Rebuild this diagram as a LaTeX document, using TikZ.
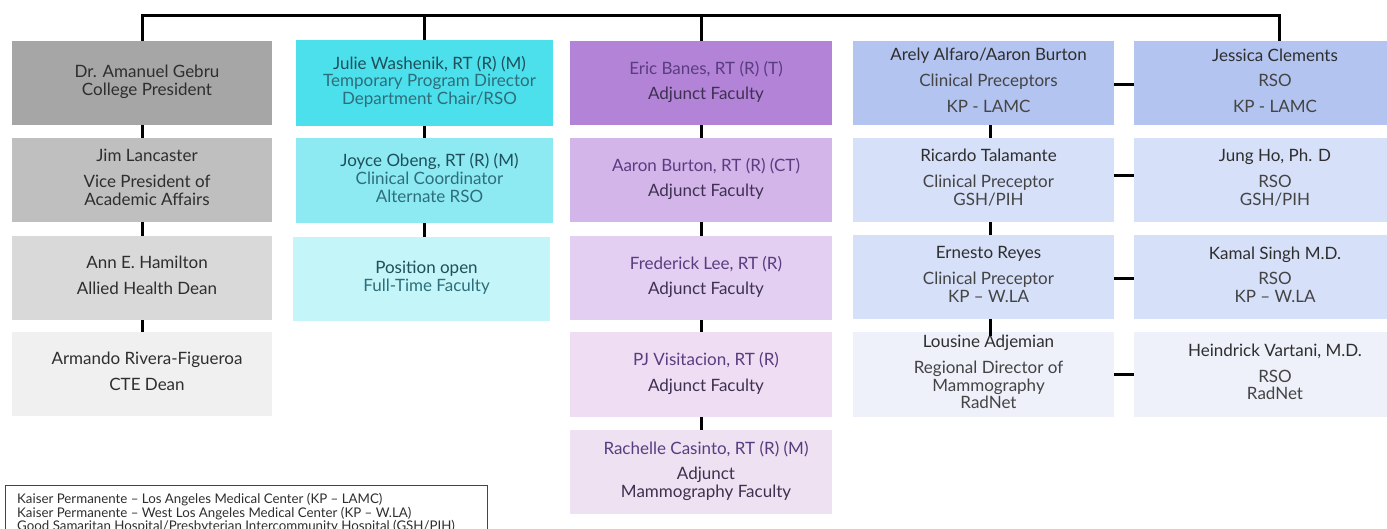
\documentclass[tikz,border=0pt]{standalone}
\usepackage{fontspec}
\setmainfont{Lato}
\definecolor{ga}{HTML}{A6A6A6}
\definecolor{gb}{HTML}{BFBFBF}
\definecolor{gc}{HTML}{D9D9D9}
\definecolor{gd}{HTML}{F0F0F0}
\definecolor{ca}{HTML}{4CE0EC}
\definecolor{cb}{HTML}{8DEAF2}
\definecolor{cc}{HTML}{C4F5F9}
\definecolor{pa}{HTML}{B383D8}
\definecolor{pb}{HTML}{D4B5EA}
\definecolor{pc}{HTML}{E2CFF1}
\definecolor{pd}{HTML}{EFDDF3}
\definecolor{pe}{HTML}{EEE2F2}
\definecolor{ba}{HTML}{B3C4F0}
\definecolor{bb}{HTML}{D6E0F9}
\definecolor{bd}{HTML}{EEF0FA}
\definecolor{tdark}{HTML}{2E2E2E}
\definecolor{tsub}{HTML}{444444}
\definecolor{tteal}{HTML}{1F4F5A}
\definecolor{tteal2}{HTML}{2D6E7A}
\definecolor{tpur}{HTML}{5A3C80}
\definecolor{tpur2}{HTML}{3D3050}
\definecolor{legc}{HTML}{3C3C8C}
\newcommand{\boxtxt}[1]{\hspace*{10pt}\begin{tabular}{@{}c@{}}#1\end{tabular}}
\begin{document}
\begin{tikzpicture}[x=1pt,y=-1pt,
  box/.style={rectangle, inner sep=0pt, minimum height=84pt,
    font=\fontsize{17}{17.5}\selectfont, text=tdark},
  col1/.style={box, minimum width=260pt},
  col2/.style={box, minimum width=257pt, text=tteal},
  col3/.style={box, minimum width=262pt, text=tpur2},
  col4/.style={box, minimum width=261pt, text=tdark},
  col5/.style={box, minimum width=272pt, text=tdark},
  conn/.style={line width=3pt, draw=black},
  link/.style={line width=3pt, draw=black, line join=miter}
]
\useasboundingbox (0,0) rectangle (1387,529);
\clip (0,0) rectangle (1387,529);

% column 1
\node[col1, fill=ga] (c1r1) at (142,83) {\boxtxt{Dr. Amanuel Gebru\\College President}};
\node[col1, fill=gb] (c1r2) at (142,180) {\boxtxt{Jim Lancaster\\[8pt]Vice President of\\Academic Affairs}};
\node[col1, fill=gc] (c1r3) at (142,278) {\boxtxt{Ann E. Hamilton\\[8pt]Allied Health Dean}};
\node[col1, fill=gd] (c1r4) at (142,374) {\boxtxt{Armando Rivera-Figueroa\\[8pt]CTE Dean}};

% column 2
\node[col2, fill=ca, minimum height=86pt] (c2r1) at (424.5,83) {\boxtxt{Julie Washenik, RT (R) (M)\\\textcolor{tteal2}{Temporary Program Director}\\\textcolor{tteal2}{Department Chair/RSO}}};
\node[col2, fill=cb, minimum height=85pt] (c2r2) at (424.5,180.5) {\boxtxt{Joyce Obeng, RT (R) (M)\\\textcolor{tteal2}{Clinical Coordinator}\\\textcolor{tteal2}{Alternate RSO}}};
\node[col2, fill=cc] (c2r3) at (421.5,279) {\boxtxt{Position open\\\textcolor{tteal2}{Full-Time Faculty}}};

% column 3
\node[col3, fill=pa] (c3r1) at (701,83) {\boxtxt{\textcolor{tpur}{Eric Banes, RT (R) (T)}\\[8pt]Adjunct Faculty}};
\node[col3, fill=pb] (c3r2) at (701,180) {\boxtxt{\textcolor{tpur}{Aaron Burton, RT (R) (CT)}\\[8pt]Adjunct Faculty}};
\node[col3, fill=pc] (c3r3) at (701,278) {\boxtxt{\textcolor{tpur}{Frederick Lee, RT (R)}\\[8pt]Adjunct Faculty}};
\node[col3, fill=pd] (c3r4) at (701,374.5) {\boxtxt{\textcolor{tpur}{PJ Visitacion, RT (R)}\\[8pt]Adjunct Faculty}};
\node[col3, fill=pe] (c3r5) at (701,472) {\boxtxt{\textcolor{tpur}{Rachelle Casinto, RT (R) (M)}\\[8pt]Adjunct\\Mammography Faculty}};

% column 4
\node[col4, fill=ba] (c4r1) at (983.5,83) {\boxtxt{Arely Alfaro/Aaron Burton\\[8pt]\textcolor{tsub}{Clinical Preceptors}\\[8pt]\textcolor{tsub}{KP - LAMC}}};
\node[col4, fill=bb] (c4r2) at (983.5,180) {\boxtxt{Ricardo Talamante\\[8pt]\textcolor{tsub}{Clinical Preceptor}\\\textcolor{tsub}{GSH/PIH}}};
\node[col4, fill=bb] (c4r3) at (983.5,277) {\boxtxt{Ernesto Reyes\\[8pt]\textcolor{tsub}{Clinical Preceptor}\\\textcolor{tsub}{KP – W.LA}}};
\node[col4, fill=bd, minimum height=85pt] (c4r4) at (983.5,374.5) {\boxtxt{Lousine Adjemian\\[8pt]\textcolor{tsub}{Regional Director of}\\\textcolor{tsub}{Mammography}\\\textcolor{tsub}{RadNet}}};

% column 5
\node[col5, fill=ba] (c5r1) at (1270,83) {\boxtxt{Jessica Clements\\[8pt]\textcolor{tsub}{RSO}\\[8pt]\textcolor{tsub}{KP - LAMC}}};
\node[col5, fill=bb] (c5r2) at (1270,180) {\boxtxt{Jung Ho, Ph. D\\[8pt]\textcolor{tsub}{RSO}\\\textcolor{tsub}{GSH/PIH}}};
\node[col5, fill=bb] (c5r3) at (1270,277) {\boxtxt{Kamal Singh M.D.\\[8pt]\textcolor{tsub}{RSO}\\\textcolor{tsub}{KP – W.LA}}};
\node[col5, fill=bd, minimum height=85pt] (c5r4) at (1270,374.5) {\boxtxt{Heindrick Vartani, M.D.\\[8pt]\textcolor{tsub}{RSO}\\\textcolor{tsub}{RadNet}}};

% top bar
\coordinate (T) at (0,16);
\coordinate (J) at ([xshift=9pt]c5r1.north);
\draw[link] (c1r1.north) -- (c1r1.north |- T) -- (J |- T) -- (J);
\draw[conn] (c2r1.north) -- (c2r1.north |- T);
\draw[conn] (c3r1.north) -- (c3r1.north |- T);

% vertical links
\draw[conn] (c1r1.south) -- (c1r2.north);
\draw[conn] (c1r2.south) -- (c1r3.north);
\draw[conn] (c1r3.south) -- (c1r4.north);
\draw[conn] (c2r1.south) -- (c2r2.north);
\draw[conn] (c2r2.south) -- (c2r2.south |- c2r3.north);
\draw[conn] (c3r1.south) -- (c3r2.north);
\draw[conn] (c3r2.south) -- (c3r3.north);
\draw[conn] (c3r3.south) -- (c3r4.north);
\draw[conn] (c3r4.south) -- (c3r5.north);
\draw[conn] ([xshift=7pt]c4r1.south) -- ([xshift=7pt]c4r2.north);
\draw[conn] ([xshift=7pt]c4r2.south) -- ([xshift=7pt]c4r3.north);
\draw[conn] ([xshift=7pt]c4r3.south) -- ([xshift=7pt,yshift=-4pt]c4r4.north);

% horizontal links
\draw[conn] ([yshift=-2pt]c4r1.east) -- ([yshift=-2pt]c5r1.west);
\draw[conn] ([yshift=4pt]c4r2.east) -- ([yshift=4pt]c5r2.west);
\draw[conn] ([yshift=-2pt]c4r3.east) -- ([yshift=-2pt]c5r3.west);
\draw[conn] (c4r4.east) -- (c5r4.west);

% legend
\node[draw=legc, line width=1pt, anchor=north west, minimum width=482pt, minimum height=70pt, inner sep=0pt] (legbox) at (5,485) {};
\node[anchor=north west, inner sep=0pt, align=left, text=tdark,
  font=\fontsize{13.3}{11}\selectfont] (legtext) at ([xshift=12pt,yshift=-8pt]legbox.north west)
  {Kaiser Permanente – Los Angeles Medical Center (KP – LAMC)\\
   Kaiser Permanente – West Los Angeles Medical Center (KP – W.LA)\\
   Good Samaritan Hospital/Presbyterian Intercommunity Hospital (GSH/PIH)};
\end{tikzpicture}
\end{document}
